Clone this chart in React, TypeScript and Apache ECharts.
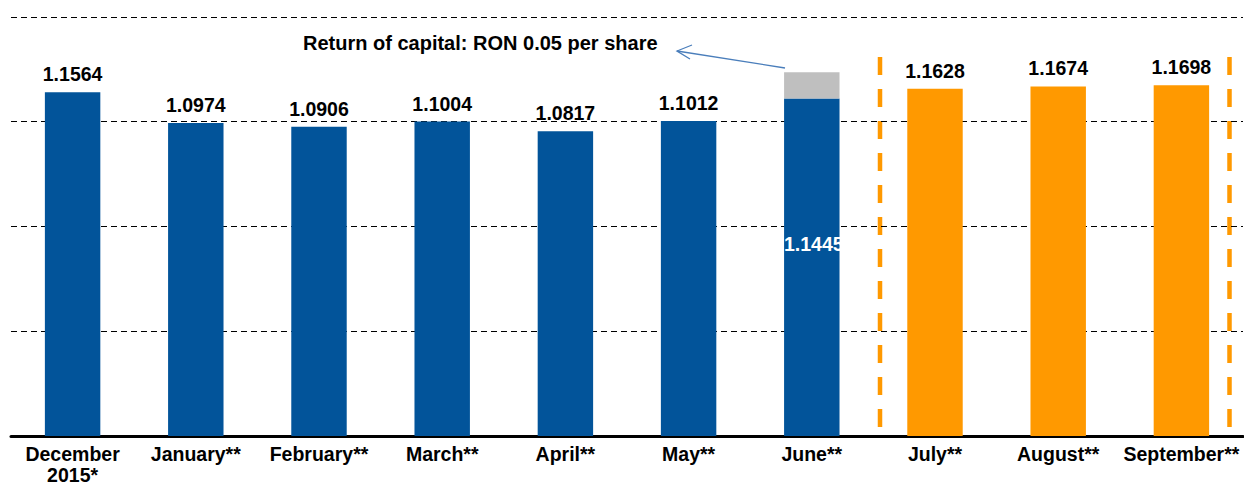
import React, { useEffect, useRef } from "react";
import * as echarts from "echarts";

const categories = [
  "December\n2015*",
  "January**",
  "February**",
  "March**",
  "April**",
  "May**",
  "June**",
  "July**",
  "August**",
  "September**",
];
const navPerShare = [1.1564, 1.0974, 1.0906, 1.1004, 1.0817, 1.1012, 1.1445, 1.1628, 1.1674, 1.1698];
const returnOfCapital = [null, null, null, null, null, null, 0.05, null, null, null];
const highlightFromIndex = 7;
const insideLabelIndex = 6;
const annotationText = "Return of capital: RON 0.05 per share";

const BLUE = "#02549A";
const ORANGE = "#FF9900";
const GRAY = "#BFBFBF";
const FONT = "Liberation Sans, Arial, sans-serif";

export default function App() {
  const ref = useRef<HTMLDivElement>(null);
  useEffect(() => {
    if (!ref.current) return;
    const chart = echarts.init(ref.current, null, { renderer: "svg" });
    chart.setOption({
      animation: false,
      grid: { left: 11, right: 1, top: 17, bottom: 51, containLabel: false, outerBoundsMode: "none" },
      xAxis: {
        type: "category",
        data: categories,
        axisLine: { show: true, lineStyle: { color: "#000", width: 3 } },
        axisTick: { show: false },
        axisLabel: {
          interval: 0,
          margin: 8,
          color: "#000",
          fontFamily: FONT,
          fontWeight: "bold",
          fontSize: 19.5,
          lineHeight: 20.5,
        },
      },
      yAxis: {
        type: "value",
        min: 0.5,
        max: 1.3,
        interval: 0.2,
        axisLine: { show: false },
        axisTick: { show: false },
        axisLabel: { show: false },
        splitLine: { show: true, lineStyle: { color: "#000", width: 1, type: [6, 4] } },
      },
      series: [
        {
          name: "NAV per share",
          type: "bar",
          stack: "nav",
          barWidth: "45%",
          label: {
            show: true,
            position: "top",
            distance: 8,
            color: "#000",
            fontFamily: FONT,
            fontWeight: "bold",
            fontSize: 19.5,
            formatter: (p: any) => Number(p.value).toFixed(4),
          },
          data: navPerShare.map((v, i) => {
            const item: any = {
              value: v,
              itemStyle: { color: i >= highlightFromIndex ? ORANGE : BLUE },
            };
            if (i === insideLabelIndex) {
              item.label = {
                show: true,
                position: ["50%", "43%"],
                align: "center",
                verticalAlign: "middle",
                offset: [2, 0],
                color: "#fff",
              };
            }
            return item;
          }),
        },
        {
          name: "Return of capital",
          type: "bar",
          stack: "nav",
          barWidth: "45%",
          itemStyle: { color: GRAY },
          label: { show: false },
          data: returnOfCapital.map((v) => (v == null ? "-" : v)),
        },
      ],
      graphic: [
        {
          type: "text",
          left: 303,
          top: 33,
          style: { text: annotationText, font: `bold 20px ${FONT}`, fill: "#000" },
        },
        {
          type: "line",
          shape: { x1: 785, y1: 68, x2: 677, y2: 51 },
          style: { stroke: "#4A7EBB", lineWidth: 1.3 },
        },
        {
          type: "polyline",
          shape: { points: [[692, 45], [677, 51], [690, 59]] },
          style: { stroke: "#4A7EBB", lineWidth: 1.3, fill: "none" },
        },
        {
          type: "line",
          shape: { x1: 880, y1: 57, x2: 880, y2: 430 },
          style: { stroke: ORANGE, lineWidth: 4.5, lineDash: [18, 14] },
        },
        {
          type: "line",
          shape: { x1: 1229.5, y1: 57, x2: 1229.5, y2: 430 },
          style: { stroke: ORANGE, lineWidth: 4.5, lineDash: [18, 14] },
        },
      ],
    });
    return () => chart.dispose();
  }, []);
  return (
    <div
      ref={ref}
      style={{ position: "fixed", left: 0, top: 0, width: 1244, height: 487, background: "#fff" }}
    />
  );
}
